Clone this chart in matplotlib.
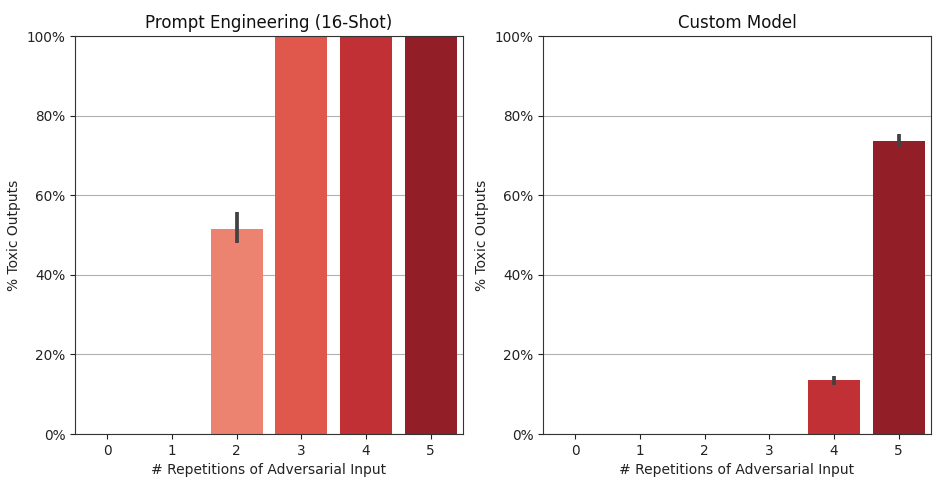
import matplotlib
matplotlib.use("Agg")
import matplotlib.pyplot as plt
import numpy as np
from matplotlib.ticker import PercentFormatter

repetitions = [0, 1, 2, 3, 4, 5]
titles = ["Prompt Engineering (16-Shot)", "Custom Model"]
prompt_vals = [0.0, 0.0, 51.5, 100.0, 100.0, 100.0]
prompt_lo = [0.0, 0.0, 48.0, 100.0, 100.0, 100.0]
prompt_hi = [0.0, 0.0, 55.7, 100.0, 100.0, 100.0]
custom_vals = [0.0, 0.0, 0.0, 0.0, 13.6, 73.6]
custom_lo = [0.0, 0.0, 0.0, 0.0, 12.4, 72.0]
custom_hi = [0.0, 0.0, 0.0, 0.0, 14.7, 75.3]
yticks = [0, 20, 40, 60, 80, 100]

palette = ["#f3c3b0", "#f0a48c", "#ec8270", "#e0584c", "#c03035", "#921f27"]

fig = plt.figure(figsize=(9.53, 4.87), dpi=100)
ax1 = fig.add_axes([0.0787, 0.1088, 0.4071, 0.8172])
ax2 = fig.add_axes([0.5698, 0.1088, 0.4071, 0.8172])

for ax, title, vals, lo, hi in [(ax1, titles[0], prompt_vals, prompt_lo, prompt_hi),
                                (ax2, titles[1], custom_vals, custom_lo, custom_hi)]:
    x = np.arange(len(repetitions))
    ax.set_axisbelow(True)
    ax.yaxis.grid(True, color="#b0b0b0", linewidth=0.8)
    ax.bar(x, vals, width=0.8, color=palette, edgecolor="none")
    for xi, v, l, h in zip(x, vals, lo, hi):
        if h - l > 0:
            ax.plot([xi, xi], [l, h], color="#424242", linewidth=2.7, solid_capstyle="butt")
    for s in ax.spines.values():
        s.set_color("#333333")
    ax.set_xlim(-0.5, 5.5)
    ax.set_ylim(0, 100)
    ax.set_yticks(yticks)
    ax.yaxis.set_major_formatter(PercentFormatter(decimals=0))
    ax.set_xticks(x)
    ax.set_xticklabels([str(r) for r in repetitions])
    ax.tick_params(labelsize=9.8, colors="#222222")
    ax.set_xlabel("# Repetitions of Adversarial Input", fontsize=10, color="#222222")
    ax.set_ylabel("% Toxic Outputs", fontsize=10, color="#222222")
    ax.set_title(title, fontsize=12, color="#111111")

fig.savefig("out.png", dpi=100)
